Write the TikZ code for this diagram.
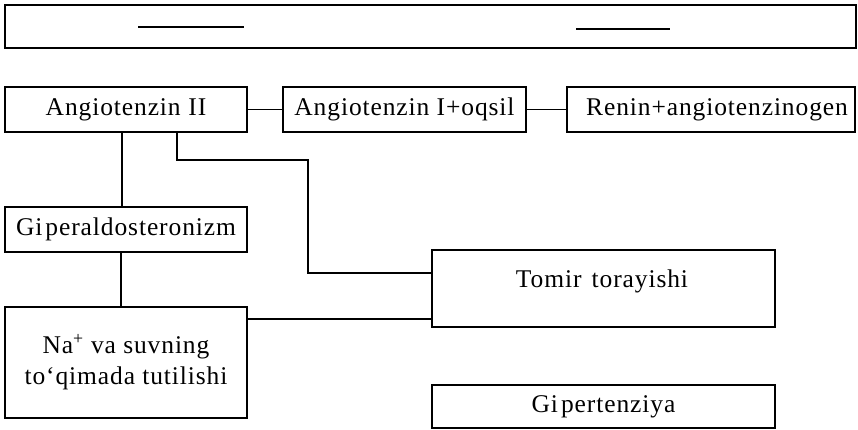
\documentclass[tikz,border=0pt]{standalone}
\usepackage{fontspec}
\setmainfont{Liberation Serif}[LetterSpace=3.5]
\begin{document}
\begin{tikzpicture}[x=1pt,y=-1pt,
  txt/.style={font=\fontsize{25.5}{31}\selectfont},
  box/.style={draw,line width=1.5pt,rectangle,inner sep=0pt,align=center,txt},
  conn/.style={line width=1.5pt}]
\useasboundingbox (0,0) rectangle (858,430);
% top frame
\draw[line width=1.8pt] (5,5) rectangle (856,48);
\draw[line width=2pt] (138,27) -- (244,27);
\draw[line width=2pt] (576,29) -- (670,29);
% nodes
\node[box,minimum width=242pt,minimum height=45pt] (a2) at (126,109.5) {Angiotenzin\hspace{0.3em}II};
\node[box,minimum width=243pt,minimum height=45pt] (a1) at (404.5,109.5) {Angiotenzin I+oqsil};
\node[box,minimum width=288pt,minimum height=45pt] (ren) at (711,109.5) {\hspace*{12pt}Renin+angiotenzinogen};
\node[box,minimum width=242pt,minimum height=45pt] (gip) at (126,229.5) {Gi\hspace{0.12em}peraldosteronizm};
\node[box,minimum width=242pt,minimum height=111pt] (na) at (126,362.5) {Na\textsuperscript{+} va suvning\\to‘qimada tutilishi};
\node[box,minimum width=343pt,minimum height=77pt] (tom) at (603.5,288.5) {};
\node[txt,inner sep=0pt] (tomtxt) at (602,281) {Tomir\hspace{0.4em}torayishi};
\node[box,minimum width=343pt,minimum height=43pt] (hyp) at (603.5,406.5) {Gi\hspace{0.12em}pertenziya};
% connectors
\draw[conn] (a2) -- (a1);
\draw[conn] (a1) -- (ren);
\draw[conn] ([xshift=-4pt]a2.south) -- ([xshift=-4pt]gip.north);
\draw[conn] ([xshift=-5pt]gip.south) -- ([xshift=-5pt]na.north);
\coordinate (bend) at (308,160);
\draw[conn] ([xshift=51pt]a2.south) |- (bend) |- ([yshift=15.5pt]tom.west);
\coordinate (t2) at ([yshift=-30.5pt]tom.west);
\draw[conn] (t2) -- (t2 -| na.east);
\end{tikzpicture}
\end{document}
